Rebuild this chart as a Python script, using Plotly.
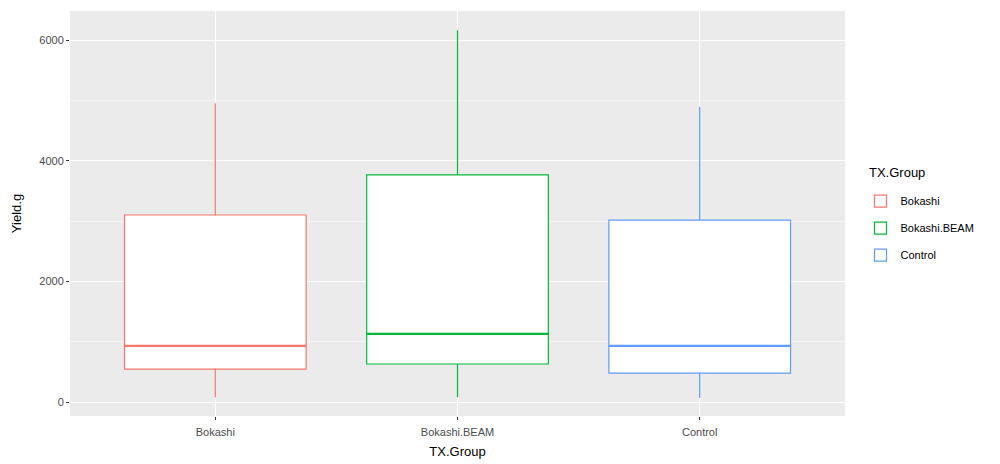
import plotly.graph_objects as go

# Yield summary per treatment group (five-number summaries)
groups = ["Bokashi", "Bokashi.BEAM", "Control"]
lower_whisker = [80, 80, 65]
q1 = [545, 630, 480]
median = [930, 1130, 930]
q3 = [3100, 3765, 3015]
upper_whisker = [4950, 6160, 4890]
colors = ["#F8766D", "#00BA38", "#619CFF"]

box_width = 0.75

fig = go.Figure()
for i, g in enumerate(groups):
    fig.add_trace(go.Box(
        name=g,
        x=[g],
        q1=[q1[i]],
        median=[median[i]],
        q3=[q3[i]],
        lowerfence=[lower_whisker[i]],
        upperfence=[upper_whisker[i]],
        fillcolor="white",
        line=dict(color=colors[i], width=1.2),
        whiskerwidth=0,
        width=box_width,
        boxpoints=False,
        legendgroup=g,
        showlegend=True,
    ))

# thicker median bars, like ggplot's fatten
shapes = []
for i, g in enumerate(groups):
    shapes.append(dict(
        type="line", xref="x", yref="y",
        x0=i - box_width / 2, x1=i + box_width / 2,
        y0=median[i], y1=median[i],
        line=dict(color=colors[i], width=2.4),
        layer="above",
    ))

fig.update_layout(
    width=1000, height=464,
    margin=dict(l=70, r=155, t=11, b=48),
    paper_bgcolor="white",
    plot_bgcolor="#EBEBEB",
    font=dict(family="Liberation Sans, Arial, sans-serif", color="#4D4D4D", size=11),
    shapes=shapes,
    boxmode="overlay",
    legend=dict(
        x=1.02, xanchor="left", y=0.464, yanchor="middle",
        font=dict(size=11, color="black"),
        bgcolor="rgba(0,0,0,0)",
        tracegroupgap=8,
    ),
    annotations=[dict(
        text="TX.Group", xref="paper", yref="paper",
        x=1.029, y=0.602, xanchor="left", yanchor="middle",
        showarrow=False, font=dict(size=13, color="black"),
    )],
    xaxis=dict(
        title=dict(text="TX.Group", font=dict(size=13, color="black"), standoff=9),
        type="category",
        categoryorder="array", categoryarray=groups,
        range=[-0.6, 2.6],
        showgrid=True, gridcolor="white", gridwidth=1.1,
        ticks="outside", ticklen=3, tickcolor="#333333",
        ticklabelstandoff=3,
        zeroline=False, showline=False,
        automargin=False,
    ),
    yaxis=dict(
        title=dict(text="Yield.g", font=dict(size=13, color="black"), standoff=14),
        range=[-232, 6481],
        tickmode="linear", tick0=0, dtick=2000,
        showgrid=True, gridcolor="white", gridwidth=1.1,
        minor=dict(tick0=0, dtick=1000, showgrid=True, gridcolor="#F5F5F5", gridwidth=0.6),
        ticks="outside", ticklen=3, tickcolor="#333333",
        zeroline=False, showline=False,
        automargin=False,
    ),
)

fig.write_html("out.html")
